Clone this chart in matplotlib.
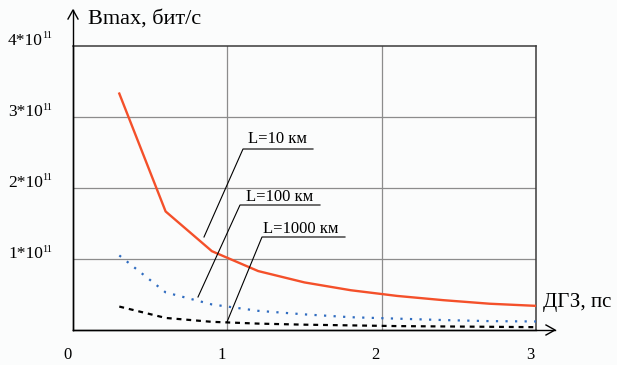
import matplotlib
matplotlib.use("Agg")
import matplotlib.pyplot as plt
from matplotlib.lines import Line2D

plt.rcParams['font.family'] = ['Liberation Serif', 'DejaVu Serif']
plt.rcParams['mathtext.default'] = 'regular'

# Data, y in units of 1e11 bit/s
dgz = [0.3, 0.6, 0.9, 1.2, 1.5, 1.8, 2.1, 2.4, 2.7, 3.0]
b_L10 = [3.33, 1.67, 1.11, 0.83, 0.67, 0.56, 0.48, 0.42, 0.37, 0.34]
b_L100 = [1.05, 0.53, 0.36, 0.27, 0.22, 0.18, 0.16, 0.14, 0.125, 0.12]
b_L1000 = [0.33, 0.17, 0.115, 0.09, 0.075, 0.065, 0.055, 0.05, 0.045, 0.04]
xticks = [0, 1, 2, 3]
xticklabels = ["0", "1", "2", "3"]
yticks = [1, 2, 3, 4]
yticklabels = ["1*10", "2*10", "3*10", "4*10"]
ytick_exp = "11"
series_labels = ["L=10 км", "L=100 км", "L=1000 км"]

W, H = 617, 365
fig = plt.figure(figsize=(W / 100, H / 100), dpi=100)
fig.patch.set_facecolor('#fbfcfc')

def P(px, py):
    return (px / W, (H - py) / H)

x0, y0, x1, y1 = 73, 330, 536, 46
ax = fig.add_axes([x0 / W, (H - y0) / H, (x1 - x0) / W, (y0 - y1) / H])
ax.set_facecolor('#fbfcfc')
ax.set_xlim(0, 3)
ax.set_ylim(0, 4)

for v in [1, 2]:
    ax.axvline(v, color='#8c8c8c', lw=0.9, zorder=1)
for v in [1, 2, 3]:
    ax.axhline(v, color='#8c8c8c', lw=0.9, zorder=1)

for s in ['top', 'right']:
    ax.spines[s].set_color('#3a3a3a')
    ax.spines[s].set_linewidth(1.1)
for s in ['left', 'bottom']:
    ax.spines[s].set_color('black')
    ax.spines[s].set_linewidth(1.0)
ax.set_xticks([])
ax.set_yticks([])

ax.plot(dgz, b_L10, color='#f4502a', lw=1.7, zorder=3)
ax.plot(dgz, b_L100, color='#2f6cc0', lw=1.6, ls=(0, (1.0, 3.3)), zorder=3)
ax.plot(dgz, b_L1000, color='black', lw=1.6, ls=(0, (2.2, 2.2)), zorder=3)

# axis arrows
fig.add_artist(Line2D(*zip(P(73, 330), P(73, 10)), color='black', lw=1.0))
fig.add_artist(Line2D(*zip(P(68, 19), P(73, 10), P(78, 19)), color='black', lw=1.0))
fig.add_artist(Line2D(*zip(P(73, 330), P(555, 330)), color='black', lw=1.0))
fig.add_artist(Line2D(*zip(P(546, 325), P(555, 330), P(546, 335)), color='black', lw=1.0))

fig.text(*P(88, 19), "Bmax, бит/с", fontsize=16, ha='left', va='center')
fig.text(*P(543, 303), "ДГЗ, пс", fontsize=15, ha='left', va='center')

for v, lab in zip(xticks, xticklabels):
    ax.annotate(lab, xy=(v, 0), xycoords=('data', 'axes fraction'),
                xytext=(-6, -25), textcoords='offset pixels',
                ha='center', va='center', fontsize=12)
for v, lab in zip(yticks, yticklabels):
    ax.annotate(lab, xy=(0, v), xycoords=('axes fraction', 'data'),
                xytext=(-65, 5), textcoords='offset pixels',
                ha='left', va='center', fontsize=12.5)
    ax.annotate(ytick_exp, xy=(0, v), xycoords=('axes fraction', 'data'),
                xytext=(-31, 10), textcoords='offset pixels',
                ha='left', va='center', fontsize=7.5)

# callouts
callouts = [
    ((243, 149), (313, 149), (204, 237), (248, 139)),
    ((240, 205), (320, 205), (198, 297), (246, 197)),
    ((262, 237), (345, 237), (227, 322), (263, 229)),
]
for lab, (a, b, c, t) in zip(series_labels, callouts):
    fig.add_artist(Line2D(*zip(P(*c), P(*a), P(*b)), color='black', lw=0.8))
    fig.text(*P(*t), lab, fontsize=12, ha='left', va='center')

fig.savefig("out.png", dpi=100, facecolor=fig.get_facecolor())
